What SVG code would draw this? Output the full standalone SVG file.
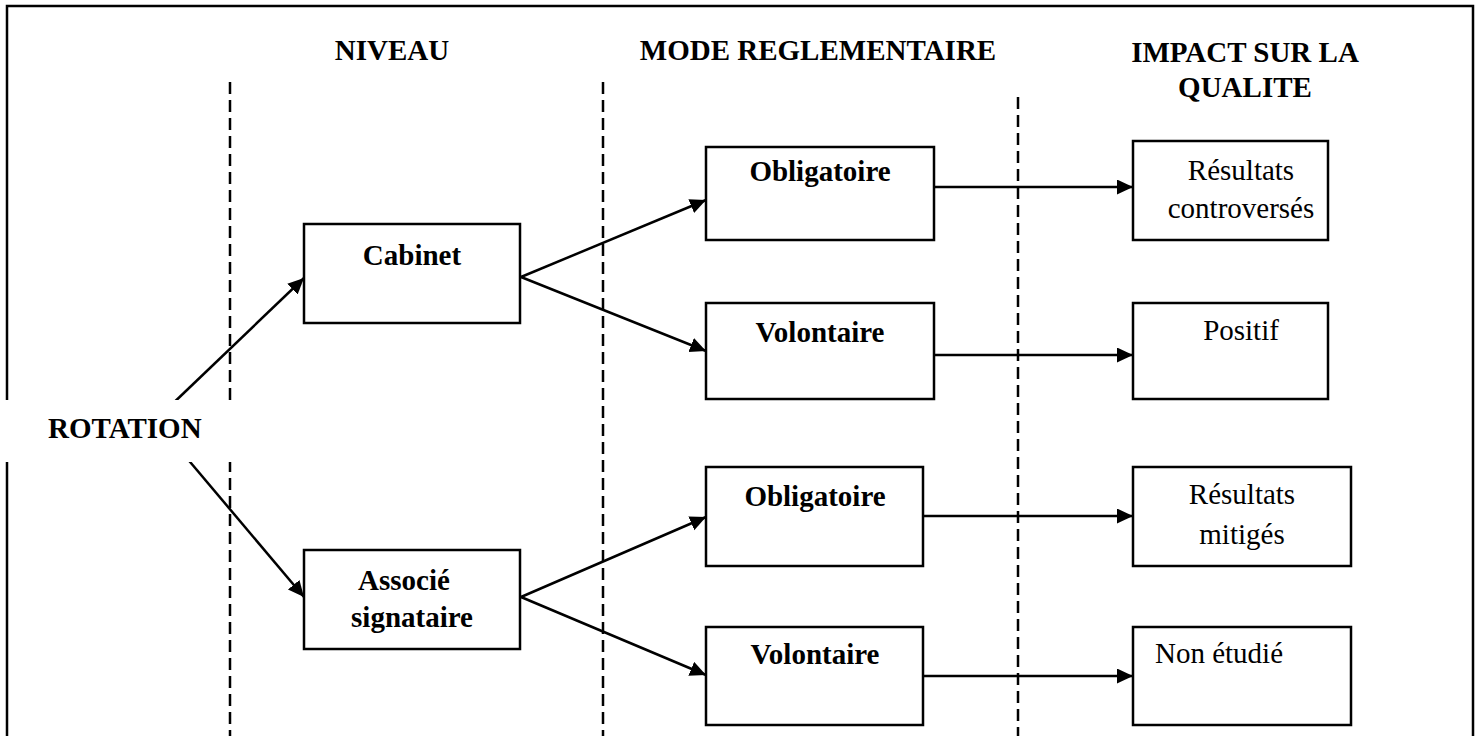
<svg xmlns="http://www.w3.org/2000/svg" width="1480" height="736" viewBox="0 0 1480 736">
<style>
.box{fill:#fff;stroke:#000;stroke-width:2.5}
.t{font-family:"Liberation Serif","Times New Roman",serif;font-size:29px;fill:#000}
.b{font-weight:bold}
.c{text-anchor:middle}
.dash{stroke:#000;stroke-width:2.5;stroke-dasharray:12 6;fill:none}
.con{stroke:#000;stroke-width:2.5;fill:none;marker-end:url(#ah)}
</style>
<defs>
<marker id="ah" markerUnits="userSpaceOnUse" markerWidth="18" markerHeight="16" refX="16" refY="7.5" orient="auto">
<path d="M0,0 L16,7.5 L0,15 z" fill="#000"/>
</marker>
</defs>
<rect x="0" y="0" width="1480" height="736" fill="#fff"/>
<rect x="7" y="6" width="1466" height="800" fill="none" stroke="#000" stroke-width="2.5"/>
<g id="headers">
<text class="t b c" x="392" y="60">NIVEAU</text>
<text class="t b c" x="818" y="60">MODE REGLEMENTAIRE</text>
<text class="t b c" x="1245" y="62">IMPACT SUR LA</text>
<text class="t b c" x="1245" y="97">QUALITE</text>
</g>
<g id="dividers">
<line class="dash" x1="230" y1="82" x2="230" y2="736"/>
<line class="dash" x1="603" y1="82" x2="603" y2="736"/>
<line class="dash" x1="1018" y1="97" x2="1018" y2="736"/>
</g>
<g id="connectors">
<line class="con" x1="165" y1="411" x2="304" y2="278"/>
<line class="con" x1="180" y1="450" x2="304" y2="597"/>
<line class="con" x1="521" y1="277" x2="706" y2="200"/>
<line class="con" x1="521" y1="277" x2="706" y2="351"/>
<line class="con" x1="521" y1="597" x2="706" y2="517"/>
<line class="con" x1="521" y1="597" x2="706" y2="675"/>
<line class="con" x1="934" y1="187" x2="1133" y2="187"/>
<line class="con" x1="934" y1="355" x2="1133" y2="355"/>
<line class="con" x1="923" y1="516" x2="1133" y2="516"/>
<line class="con" x1="923" y1="676" x2="1133" y2="676"/>
</g>
<g id="rotation">
<rect x="0" y="400" width="233" height="62" fill="#fff"/>
<text class="t b" x="48" y="438">ROTATION</text>
</g>
<g id="cabinet">
<rect class="box" x="304" y="224" width="216" height="99"/>
<text class="t b c" x="412" y="265">Cabinet</text>
</g>
<g id="associe">
<rect class="box" x="304" y="550" width="216" height="99"/>
<text class="t b c" x="404" y="590">Associé</text>
<text class="t b c" x="412" y="627">signataire</text>
</g>
<g id="obligatoire1">
<rect class="box" x="706" y="147" width="228" height="93"/>
<text class="t b c" x="820" y="181">Obligatoire</text>
</g>
<g id="volontaire1">
<rect class="box" x="706" y="303" width="228" height="96"/>
<text class="t b c" x="820" y="342">Volontaire</text>
</g>
<g id="obligatoire2">
<rect class="box" x="706" y="467" width="217" height="99"/>
<text class="t b c" x="815" y="506">Obligatoire</text>
</g>
<g id="volontaire2">
<rect class="box" x="706" y="627" width="217" height="98"/>
<text class="t b c" x="815" y="664">Volontaire</text>
</g>
<g id="controverses">
<rect class="box" x="1133" y="141" width="195" height="99"/>
<text class="t c" x="1241" y="180">Résultats</text>
<text class="t c" x="1241" y="218">controversés</text>
</g>
<g id="positif">
<rect class="box" x="1133" y="303" width="195" height="96"/>
<text class="t c" x="1241" y="340">Positif</text>
</g>
<g id="mitiges">
<rect class="box" x="1133" y="467" width="218" height="99"/>
<text class="t c" x="1242" y="504">Résultats</text>
<text class="t c" x="1242" y="544">mitigés</text>
</g>
<g id="nonetudie">
<rect class="box" x="1133" y="627" width="218" height="98"/>
<text class="t" x="1155" y="663">Non étudié</text>
</g>
</svg>
